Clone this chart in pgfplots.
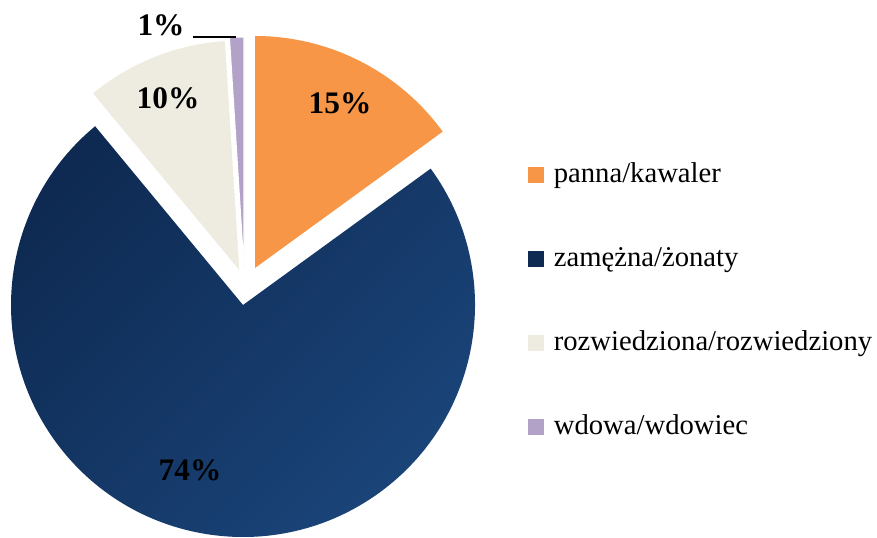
\documentclass[border=0pt]{standalone}
\usepackage{fontspec}
\setmainfont{Liberation Serif}
\usepackage{pgfplots}
\usepackage{pgfplotstable}
\pgfplotsset{compat=1.18}

\definecolor{cOrange}{HTML}{F79646}
\definecolor{cNavyA}{HTML}{0E2A52}
\definecolor{cNavyB}{HTML}{1B467C}
\definecolor{cBeige}{HTML}{EEECE1}
\definecolor{cLilac}{HTML}{B2A2C7}

% udzial procentowy i przesuniecie wycinka (w px)
\pgfplotstableread{
pct dx dy
15 12 37
74 0 0
10 -3 33
1 1 36
}\shares

\begin{document}
\begin{tikzpicture}
  % katy wycinkow liczone z tabeli, zgodnie z ruchem wskazowek zegara od 90 st.
  \def\cx{243}\def\cy{233}\def\R{174pt}
  \pgfmathsetmacro\aO{90}
  \pgfplotstablegetelem{0}{pct}\of\shares \pgfmathsetmacro\aA{\aO-3.6*\pgfplotsretval}
  \pgfplotstablegetelem{1}{pct}\of\shares \pgfmathsetmacro\aB{\aA-3.6*\pgfplotsretval}
  \pgfplotstablegetelem{2}{pct}\of\shares \pgfmathsetmacro\aC{\aB-3.6*\pgfplotsretval}
  \pgfplotstablegetelem{3}{pct}\of\shares \pgfmathsetmacro\aD{\aC-3.6*\pgfplotsretval}
  \pgfplotstablegetelem{0}{dx}\of\shares \pgfmathsetmacro\xA{\cx+\pgfplotsretval}
  \pgfplotstablegetelem{0}{dy}\of\shares \pgfmathsetmacro\yA{\cy+\pgfplotsretval}
  \pgfplotstablegetelem{1}{dx}\of\shares \pgfmathsetmacro\xB{\cx+\pgfplotsretval}
  \pgfplotstablegetelem{1}{dy}\of\shares \pgfmathsetmacro\yB{\cy+\pgfplotsretval}
  \pgfplotstablegetelem{2}{dx}\of\shares \pgfmathsetmacro\xC{\cx+\pgfplotsretval}
  \pgfplotstablegetelem{2}{dy}\of\shares \pgfmathsetmacro\yC{\cy+\pgfplotsretval}
  \pgfplotstablegetelem{3}{dx}\of\shares \pgfmathsetmacro\xD{\cx+\pgfplotsretval}
  \pgfplotstablegetelem{3}{dy}\of\shares \pgfmathsetmacro\yD{\cy+\pgfplotsretval}

  \begin{axis}[
    x=0.75pt, y=0.75pt,
    xmin=0, xmax=877, ymin=0, ymax=538,
    hide axis, clip=false,
    legend cell align=left,
    legend style={
      at={(axis cs:528,376)}, anchor=north west,
      draw=none, fill=none, inner sep=0pt,
      font=\fontsize{21.5}{24}\selectfont,
      row sep=44pt, column sep=0pt,
      nodes={inner sep=0pt, text height=15pt, text depth=4pt},
    },
  ]
  \path (axis cs:0,0) rectangle (axis cs:877,538);

  \addlegendimage{legend image code/.code={\fill[cOrange] (0pt,-5.6pt) rectangle (11.25pt,5.6pt); \path (18.75pt,0);}}
  \addlegendentry{panna/kawaler}
  \addlegendimage{legend image code/.code={\fill[cNavyA] (0pt,-5.6pt) rectangle (11.25pt,5.6pt); \path (18.75pt,0);}}
  \addlegendentry{zamężna/żonaty}
  \addlegendimage{legend image code/.code={\fill[cBeige] (0pt,-5.6pt) rectangle (11.25pt,5.6pt); \path (18.75pt,0);}}
  \addlegendentry{rozwiedziona/rozwiedziony}
  \addlegendimage{legend image code/.code={\fill[cLilac] (0pt,-5.6pt) rectangle (11.25pt,5.6pt); \path (18.75pt,0);}}
  \addlegendentry{wdowa/wdowiec}

  % wycinki
  \fill[cOrange] (axis cs:\xA,\yA) -- ++(\aO:\R) arc[start angle=\aO, end angle=\aA, radius=\R] -- cycle;
  \shade[overlay, top color=cNavyA, bottom color=cNavyB, shading angle=45]
    (axis cs:\xB,\yB) -- ++(\aA:\R) arc[start angle=\aA, end angle=\aB, radius=\R] -- cycle;
  \filldraw[fill=cBeige, draw=white, line width=0.8pt] (axis cs:\xC,\yC) -- ++(\aB:\R) arc[start angle=\aB, end angle=\aC, radius=\R] -- cycle;
  \filldraw[fill=cLilac, draw=white, line width=0.8pt] (axis cs:\xD,\yD) -- ++(\aC:\R) arc[start angle=\aC, end angle=\aD, radius=\R] -- cycle;

  % etykiety
  \begin{scope}[font=\fontsize{23.5}{26}\selectfont\bfseries]
    \node at (axis cs:340,435) {15\%};
    \node at (axis cs:168,440) {10\%};
    \node at (axis cs:190,68) {74\%};
    \node at (axis cs:161,513) {1\%};
  \end{scope}
  \draw[line width=1.5pt] (axis cs:193,501) -- (axis cs:236,501);
  \end{axis}
\end{tikzpicture}
\end{document}
